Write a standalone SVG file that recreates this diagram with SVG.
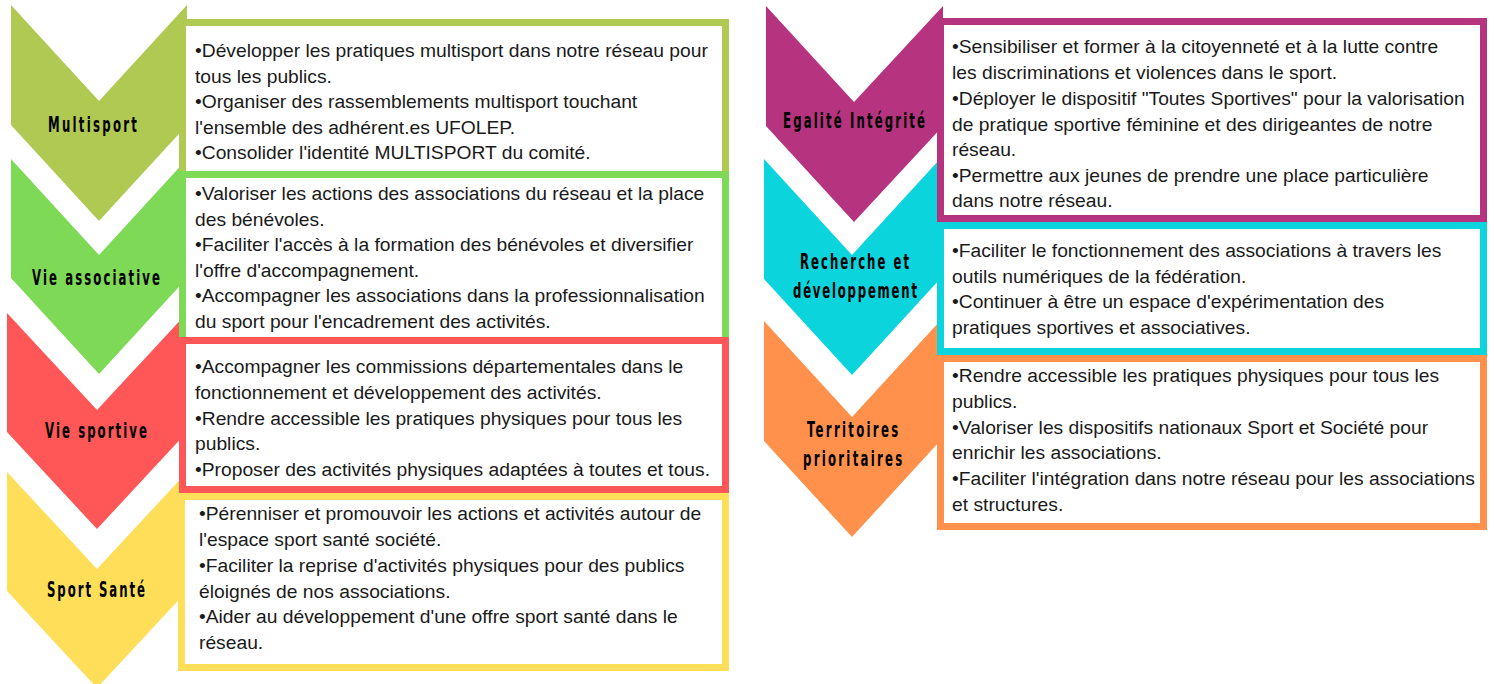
<svg xmlns="http://www.w3.org/2000/svg" width="1494" height="684" viewBox="0 0 1494 684">
<style>
.box{fill:#ffffff;stroke-width:7}
.t{font-family:"Liberation Sans",Arial,sans-serif;font-size:19.25px;fill:#1a1a1a}
.lbl{font-family:"DejaVu Sans Condensed","DejaVu Sans",sans-serif;font-weight:bold;font-size:21px;fill:#000000}
</style>
<rect width="1494" height="684" fill="#ffffff"/>
<g id="chevrons">
<polygon id="chev-multisport" fill="#b0c953" points="11,5 99,101 187,5 187,125 99,221 11,125"/>
<polygon id="chev-vieasso" fill="#7ed957" points="11,159 99,255 187,159 187,278 99,374 11,278"/>
<polygon id="chev-viesport" fill="#ff5757" points="7,313 97,410 187,313 187,432 97,529 7,432"/>
<polygon id="chev-sante" fill="#ffde59" points="7,472 97,569 187,472 187,591 97,688 7,591"/>
<polygon id="chev-egalite" fill="#b6347f" points="766,6 854,102 943,6 943,126 854,222 766,126"/>
<polygon id="chev-recherche" fill="#0bd4dc" points="764,159 852,255 940,159 940,279 852,375 764,279"/>
<polygon id="chev-territoires" fill="#ff914d" points="764,321 852,417 940,321 940,441 852,537 764,441"/>
</g>
<g id="node-multisport">
<rect class="box" stroke="#b0c953" x="182.5" y="22.5" width="543" height="152"/>
<text class="t"><tspan x="195" y="57">•Développer les pratiques multisport dans notre réseau pour</tspan><tspan x="195" y="82.5">tous les publics.</tspan><tspan x="195" y="108">•Organiser des rassemblements multisport touchant</tspan><tspan x="195" y="133.5">l'ensemble des adhérent.es UFOLEP.</tspan><tspan x="195" y="159">•Consolider l'identité MULTISPORT du comité.</tspan></text>
</g>
<g id="node-vieasso">
<rect class="box" stroke="#7ed957" x="182.5" y="174.5" width="543" height="166"/>
<text class="t"><tspan x="195" y="200">•Valoriser les actions des associations du réseau et la place</tspan><tspan x="195" y="225.5">des bénévoles.</tspan><tspan x="195" y="251">•Faciliter l'accès à la formation des bénévoles et diversifier</tspan><tspan x="195" y="276.5">l'offre d'accompagnement.</tspan><tspan x="195" y="302">•Accompagner les associations dans la professionnalisation</tspan><tspan x="195" y="327.5">du sport pour l'encadrement des activités.</tspan></text>
</g>
<g id="node-viesport">
<rect class="box" stroke="#ff5757" x="182.5" y="340.5" width="543" height="149"/>
<text class="t"><tspan x="195" y="373">•Accompagner les commissions départementales dans le</tspan><tspan x="195" y="398.5">fonctionnement et développement des activités.</tspan><tspan x="195" y="424.5">•Rendre accessible les pratiques physiques pour tous les</tspan><tspan x="195" y="450">publics.</tspan><tspan x="195" y="475.5">•Proposer des activités physiques adaptées à toutes et tous.</tspan></text>
</g>
<g id="node-sante">
<rect class="box" stroke="#ffde59" x="181.5" y="496.5" width="544" height="171"/>
<text class="t"><tspan x="199" y="520">•Pérenniser et promouvoir les actions et activités autour de</tspan><tspan x="199" y="546">l'espace sport santé société.</tspan><tspan x="199" y="571.5">•Faciliter la reprise d'activités physiques pour des publics</tspan><tspan x="199" y="597.5">éloignés de nos associations.</tspan><tspan x="199" y="623">•Aider au développement d'une offre sport santé dans le</tspan><tspan x="199" y="648.5">réseau.</tspan></text>
</g>
<g id="node-egalite">
<rect class="box" stroke="#b6347f" x="940.5" y="21.5" width="543" height="197"/>
<text class="t"><tspan x="952" y="53">•Sensibiliser et former à la citoyenneté et à la lutte contre</tspan><tspan x="952" y="79">les discriminations et violences dans le sport.</tspan><tspan x="952" y="104.5">•Déployer le dispositif "Toutes Sportives" pour la valorisation</tspan><tspan x="952" y="130.5">de pratique sportive féminine et des dirigeantes de notre</tspan><tspan x="952" y="156">réseau.</tspan><tspan x="952" y="181.5">•Permettre aux jeunes de prendre une place particulière</tspan><tspan x="952" y="207">dans notre réseau.</tspan></text>
</g>
<g id="node-recherche">
<rect class="box" stroke="#0bd4dc" x="940.5" y="225.5" width="543" height="126"/>
<text class="t"><tspan x="952" y="257">•Faciliter le fonctionnement des associations à travers les</tspan><tspan x="952" y="282.5">outils numériques de la fédération.</tspan><tspan x="952" y="308">•Continuer à être un espace d'expérimentation des</tspan><tspan x="952" y="333.5">pratiques sportives et associatives.</tspan></text>
</g>
<g id="node-territoires">
<rect class="box" stroke="#ff914d" x="940.5" y="358.5" width="543" height="168"/>
<text class="t"><tspan x="952" y="382">•Rendre accessible les pratiques physiques pour tous les</tspan><tspan x="952" y="408">publics.</tspan><tspan x="952" y="433.5">•Valoriser les dispositifs nationaux Sport et Société pour</tspan><tspan x="952" y="459">enrichir les associations.</tspan><tspan x="952" y="485">•Faciliter l'intégration dans notre réseau pour les associations</tspan><tspan x="952" y="510.5">et structures.</tspan></text>
</g>
<g id="labels">
<text class="lbl" transform="translate(48,132) scale(0.62,1)" x="0" y="0" textLength="143.5" lengthAdjust="spacing">Multisport</text>
<text class="lbl" transform="translate(32,285) scale(0.62,1)" x="0" y="0" textLength="206.5" lengthAdjust="spacing">Vie associative</text>
<text class="lbl" transform="translate(45,438) scale(0.62,1)" x="0" y="0" textLength="164.5" lengthAdjust="spacing">Vie sportive</text>
<text class="lbl" transform="translate(47,597) scale(0.62,1)" x="0" y="0" textLength="158" lengthAdjust="spacing">Sport Santé</text>
<text class="lbl" transform="translate(783,128) scale(0.62,1)" x="0" y="0" textLength="229" lengthAdjust="spacing">Egalité Intégrité</text>
<text class="lbl" transform="translate(800,269) scale(0.62,1)" x="0" y="0" textLength="176" lengthAdjust="spacing">Recherche et</text>
<text class="lbl" transform="translate(793,298) scale(0.62,1)" x="0" y="0" textLength="200" lengthAdjust="spacing">développement</text>
<text class="lbl" transform="translate(807,437) scale(0.62,1)" x="0" y="0" textLength="147" lengthAdjust="spacing">Territoires</text>
<text class="lbl" transform="translate(803,466) scale(0.62,1)" x="0" y="0" textLength="160" lengthAdjust="spacing">prioritaires</text>
</g>
</svg>
